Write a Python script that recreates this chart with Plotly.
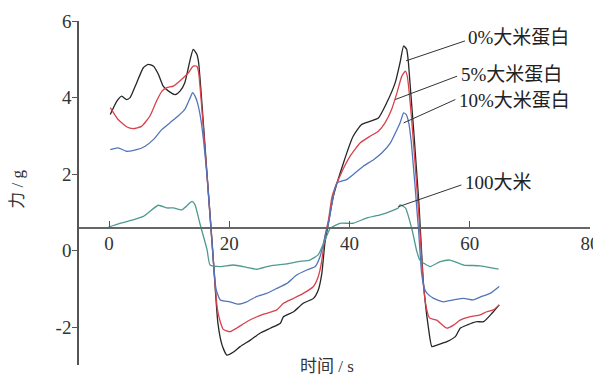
import plotly.graph_objects as go

# ---------------- data ----------------
t_0 = [0.2, 1.3, 2.1, 2.9, 3.5, 4.6, 5.7, 6.5, 7.4, 8.2, 9.0, 9.9, 11.0, 11.8, 12.6, 13.5, 14.0, 14.6, 14.9,
       16.3, 17.2, 18.1, 18.8, 19.6, 20.7, 21.8, 23.5, 25.1, 26.8, 28.5, 29.0, 30.7, 32.3, 34.0, 34.8, 35.4,
       35.9, 36.5, 37.3, 39.0, 40.6, 42.0, 43.4, 44.8, 46.2, 47.6, 48.4, 49.0, 49.5, 49.8, 51.5, 52.3, 53.1,
       53.7, 54.5, 56.2, 57.6, 58.4, 59.5, 61.2, 62.3, 63.7, 64.9]
f_0 = [3.56, 3.91, 4.04, 3.95, 4.00, 4.39, 4.78, 4.87, 4.82, 4.61, 4.30, 4.17, 4.08, 4.17, 4.39, 5.00, 5.26, 5.13, 4.91,
       2.00, 0.10, -1.88, -2.46, -2.72, -2.64, -2.50, -2.33, -2.15, -2.02, -1.89, -1.72, -1.59, -1.37, -1.24, -1.02, -0.58,
       0.20, 0.73, 1.42, 2.30, 2.99, 3.30, 3.38, 3.47, 3.87, 4.39, 4.91, 5.35, 5.26, 4.91, 1.34, -0.85, -1.98,
       -2.50, -2.46, -2.37, -2.24, -2.02, -1.94, -1.85, -1.85, -1.63, -1.41]

t_5 = [0.2, 1.5, 2.9, 4.0, 5.4, 6.8, 7.9, 8.8, 9.6, 10.7, 12.1, 13.2, 14.0, 14.6, 14.9,
       16.3, 17.2, 18.0, 18.5, 19.0, 20.1, 21.2, 22.9, 24.6, 26.2, 27.9, 29.0, 30.7, 32.3, 34.0, 34.8, 35.4,
       35.9, 36.5, 37.1, 38.4, 40.1, 41.8, 43.4, 44.8, 45.9, 47.0, 47.9, 48.7, 49.3, 49.6, 50.3, 51.5, 52.3,
       52.8, 53.3, 54.5, 56.2, 57.3, 58.4, 60.1, 61.7, 62.8, 63.9, 64.9]
f_5 = [3.74, 3.43, 3.24, 3.19, 3.25, 3.52, 3.91, 4.17, 4.26, 4.30, 4.48, 4.65, 4.82, 4.82, 4.65,
       1.95, 0.05, -1.50, -1.85, -2.05, -2.11, -2.02, -1.85, -1.72, -1.63, -1.54, -1.37, -1.24, -1.11, -0.93, -0.67, -0.24,
       0.37, 0.81, 1.42, 1.95, 2.47, 2.82, 2.99, 3.12, 3.34, 3.69, 4.13, 4.56, 4.69, 4.56, 3.50, 1.00, -0.90,
       -1.50, -1.75, -1.81, -2.02, -1.94, -1.81, -1.72, -1.67, -1.59, -1.54, -1.41]

t_10 = [0.2, 1.5, 2.9, 4.6, 6.0, 7.4, 8.8, 10.1, 11.5, 12.6, 13.5, 13.9, 14.3, 14.7, 15.3,
        16.3, 17.2, 17.8, 18.5, 20.1, 21.5, 22.9, 24.6, 26.2, 27.9, 29.6, 31.2, 32.9, 34.3, 35.1, 35.8,
        36.5, 37.9, 39.5, 40.9, 42.3, 44.0, 45.4, 46.8, 47.9, 48.4, 49.0, 49.4, 49.8, 50.3, 51.5, 52.0,
        52.5, 52.9, 54.0, 55.6, 57.3, 59.0, 60.6, 62.0, 63.4, 64.9]
f_10 = [2.64, 2.69, 2.60, 2.64, 2.73, 2.91, 3.17, 3.34, 3.52, 3.69, 4.00, 4.13, 4.04, 3.87, 3.40,
        1.95, 0.05, -1.00, -1.28, -1.33, -1.39, -1.33, -1.19, -1.11, -0.98, -0.85, -0.63, -0.50, -0.41, -0.15, 0.29,
        0.73, 1.77, 1.86, 2.03, 2.21, 2.38, 2.56, 2.82, 3.17, 3.34, 3.60, 3.56, 3.38, 2.80, 0.50, -0.60,
        -1.00, -1.11, -1.24, -1.33, -1.28, -1.24, -1.28, -1.19, -1.11, -0.93]

t_100 = [-0.1, 1.8, 4.0, 5.7, 8.2, 9.6, 10.7, 12.1, 13.8, 14.3, 15.1, 16.3, 16.8, 18.5, 20.7, 22.9, 24.6,
         26.8, 29.6, 31.5, 33.4, 34.8, 35.7, 36.5, 36.8, 38.4, 40.6, 42.9, 45.1, 46.8, 48.1, 48.4, 49.3,
         50.4, 51.2, 51.7, 53.4, 55.1, 56.7, 59.0, 61.7, 64.8]
f_100 = [0.62, 0.72, 0.81, 0.90, 1.19, 1.12, 1.12, 1.07, 1.29, 1.20, 0.72, 0.03, -0.37, -0.41, -0.37, -0.43, -0.48,
         -0.39, -0.34, -0.28, -0.24, -0.10, 0.20, 0.50, 0.59, 0.72, 0.72, 0.86, 0.94, 1.03, 1.12, 1.20, 1.12,
         0.55, -0.02, -0.24, -0.41, -0.28, -0.24, -0.37, -0.39, -0.48]

series_names = ["0%大米蛋白", "5%大米蛋白", "10%大米蛋白", "100大米"]
# leader-line anchor on curve (x, y), line end (x, y) and label text position (x, y)
label_from_x = [49.4, 47.6, 49.0, 48.1]
label_from_y = [4.96, 3.95, 3.34, 1.15]
label_to_x = [59.2, 57.9, 57.6, 58.6]
label_to_y = [5.48, 4.56, 3.95, 1.72]
label_text_x = [59.4, 58.2, 57.8, 58.9]
label_text_y = [5.58, 4.60, 3.93, 1.79]

x_ticks = [0, 20, 40, 60, 80]
y_ticks = [6, 4, 2, 0, -2]
y_tick_text = ["6", "4", "2", "0", "-2"]

x_title = "时间 / s"
y_title = "力 / g"

# ---------------- styling ----------------
colors = ["#262626", "#d8424c", "#5275ba", "#4e9a92"]
serif = "Liberation Serif, Noto Sans CJK SC, serif"
x_range = [-5, 80]
y_range = [-2.98, 6.0]
x_axis_cross = 0.6  # value of y where the time axis is drawn

fig = go.Figure()
for t, f, c, n in zip([t_0, t_5, t_10, t_100], [f_0, f_5, f_10, f_100], colors, series_names):
    fig.add_trace(go.Scatter(x=t, y=f, mode="lines", name=n,
                             line=dict(color=c, width=1.3, shape="spline", smoothing=0.5),
                             showlegend=False, hoverinfo="skip"))

for n, x0, y0, x1, y1, tx, ty in zip(series_names, label_from_x, label_from_y, label_to_x, label_to_y,
                                     label_text_x, label_text_y):
    fig.add_trace(go.Scatter(x=[x0, x1], y=[y0, y1], mode="lines",
                             line=dict(color="#333333", width=1), showlegend=False, hoverinfo="skip"))
    fig.add_annotation(x=tx, y=ty, text=n, showarrow=False, xanchor="left", yanchor="middle",
                       font=dict(family=serif, size=19, color="#222222"))

pos = (x_axis_cross - y_range[0]) / (y_range[1] - y_range[0])

# the page body adds an 8px offset, so the figure is 8px smaller than the window
fig.update_layout(
    width=593, height=368, autosize=False,
    margin=dict(l=71, r=11, t=13, b=11, autoexpand=False),
    paper_bgcolor="white", plot_bgcolor="white",
    font=dict(family=serif, color="#222222"),
    xaxis=dict(range=x_range, tickvals=x_ticks, ticks="inside", ticklen=6, tickcolor="#555555",
               showline=True, linecolor="#666666", linewidth=1.5, showgrid=False, zeroline=False,
               anchor="free", position=pos, ticklabelstandoff=-1, automargin=False,
               tickfont=dict(family=serif, size=19, color="#333333")),
    yaxis=dict(range=y_range, tickvals=y_ticks, ticktext=y_tick_text, ticks="outside", ticklen=5,
               tickcolor="#555555", showline=True, linecolor="#555555", linewidth=1.5, showgrid=False,
               zeroline=False, automargin=False, ticklabelstandoff=-3,
               tickfont=dict(family=serif, size=19, color="#333333")),
)

# axis titles
fig.add_annotation(x=0.486, y=-0.004, xref="paper", yref="paper", text=x_title, showarrow=False,
                   xanchor="center", yanchor="middle", font=dict(family=serif, size=17, color="#333333"))
fig.add_annotation(x=-0.121, y=0.51, xref="paper", yref="paper", text=y_title, showarrow=False,
                   textangle=-90, xanchor="center", yanchor="middle",
                   font=dict(family=serif, size=17, color="#333333"))

fig.write_html("out.html")
